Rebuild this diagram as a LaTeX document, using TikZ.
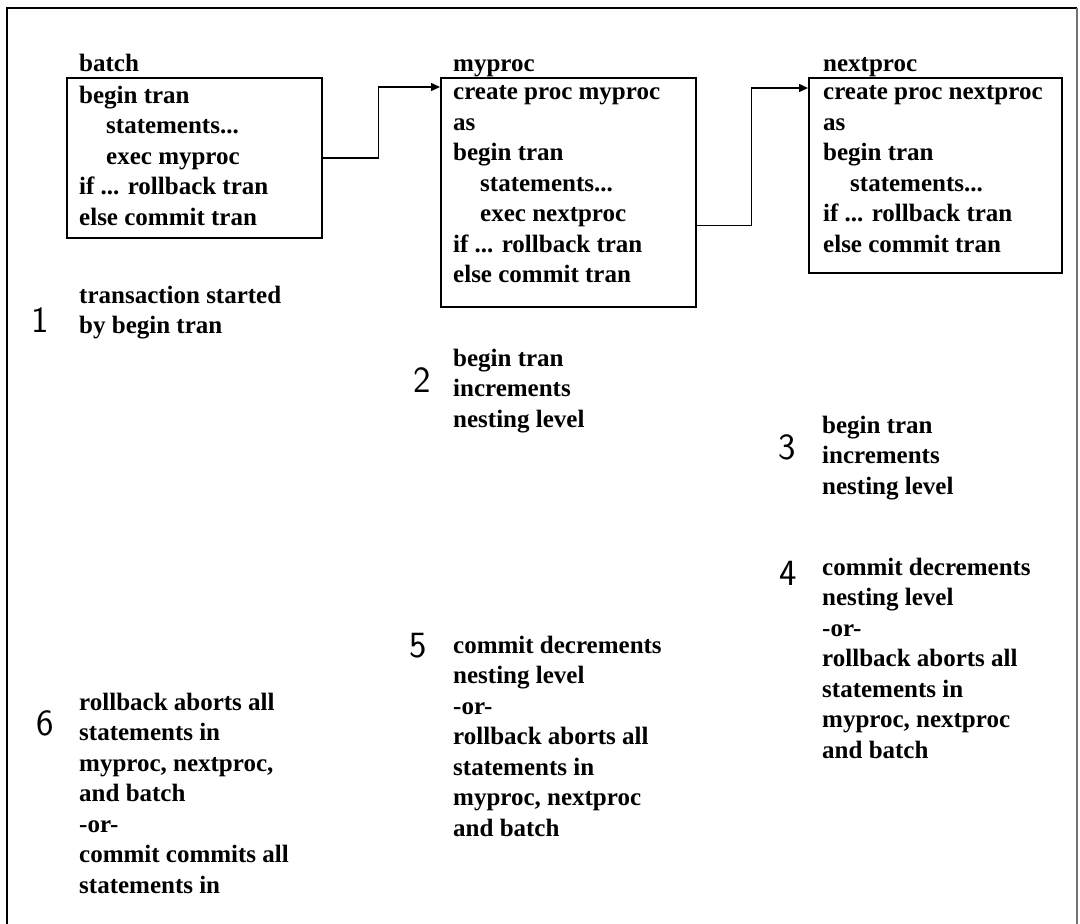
\documentclass[tikz,border=0pt]{standalone}
\usepackage{fontspec}
\newfontfamily\codefont{Liberation Serif}
\usetikzlibrary{arrows.meta}

\tikzset{
  caption/.style={font=\codefont\bfseries\fontsize{25}{30.5}\selectfont, anchor=base west, inner sep=0pt},
  code/.style={caption, align=left, anchor=north west, yshift=17.35pt, execute at begin node=\strut},
  procbox/.style={draw, line width=1.5pt, anchor=north west, inner sep=0pt},
  flow/.style={line width=1.5pt, -{Triangle[length=9pt,width=8pt]}},
  stepnum/.style={font=\sffamily\fontsize{37}{37}\selectfont, inner sep=0pt},
}
\newcommand{\ind}{\hspace*{27pt}}

\begin{document}
\begin{tikzpicture}[x=1pt,y=-1pt]
    \useasboundingbox (0,0) rectangle (1080,924);
    \draw[line width=2.5pt] (7,924) |- (1077,8);
    \draw[line width=2pt, black!55] (1077,8) -- (1077,924);

    % the three procedures
    \node[procbox, minimum width=255pt, minimum height=160pt] (batch) at (66,77) {};
    \node[procbox, minimum width=255pt, minimum height=229pt] (myproc) at (440,77) {};
    \node[procbox, minimum width=253pt, minimum height=195pt] (nextproc) at (808,77) {};

    \node[caption] (batch label) at (79,71) {batch};
    \node[caption] (myproc label) at (453,71) {myproc};
    \node[caption] (nextproc label) at (823,71) {nextproc};

    \node[code] (batch code) at (79,103) {begin tran\\ \ind statements...\\ \ind exec myproc\\if ... rollback tran\\else commit tran};
    \node[code] (myproc code) at (453,103) {create proc myproc\\as\\begin tran\\ \ind statements...\\ \ind exec nextproc\\if ... rollback tran\\else commit tran};
    \node[code] (nextproc code) at (823,103) {create proc nextproc\\as\\begin tran\\ \ind statements...\\if ... rollback tran\\else commit tran};

    \coordinate (in1) at ([yshift=-10pt]myproc.north west);
    \coordinate (out2) at ([yshift=-33pt]myproc.east);
    \coordinate (in2) at ([yshift=-11pt]nextproc.north west);

    \draw[flow] (batch.east) -- ++(56,0) |- (in1);
    \draw[flow] (out2) -- ++(55,0) |- (in2);

    % notes
    \node[code] (note1) at (79,303) {transaction started\\by begin tran};
    \node[code] (note2) at (453,366) {begin tran\\increments\\nesting level};
    \node[code] (note3) at (822,433) {begin tran\\increments\\nesting level};
    \node[code] (note4) at (822,575) {commit decrements\\nesting level\\-or-\\rollback aborts all\\statements in\\myproc, nextproc\\and batch};
    \node[code] (note5) at (453,653) {commit decrements\\nesting level\\-or-\\rollback aborts all\\statements in\\myproc, nextproc\\and batch};
    \node[code] (note6) at (79,710) {rollback aborts all\\statements in\\myproc, nextproc,\\and batch\\-or-\\commit commits all\\statements in};

    \foreach \n/\x/\y in {1/40/320, 2/422/380, 3/787/447, 4/788/573, 5/418/646, 6/45/723}
        \node[stepnum] (num\n) at (\x,\y) {\n};
\end{tikzpicture}
\end{document}
